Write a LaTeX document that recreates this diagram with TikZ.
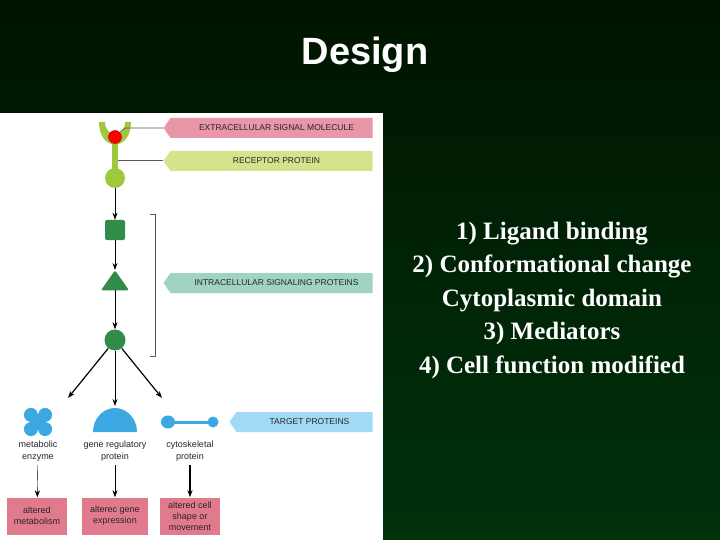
\documentclass[tikz,border=0pt]{standalone}
\usepackage{fontspec}
\setmainfont{Liberation Serif}
\setsansfont{Liberation Sans}
\usetikzlibrary{shapes.geometric,shapes.symbols,arrows.meta}
\definecolor{bgtop}{RGB}{0,20,0}
\definecolor{bgbot}{RGB}{0,50,12}
\definecolor{tagpink}{RGB}{232,150,168}
\definecolor{taggreen}{RGB}{212,228,140}
\definecolor{tagteal}{RGB}{160,212,192}
\definecolor{tagblue}{RGB}{160,218,244}
\definecolor{recgreen}{RGB}{160,200,60}
\definecolor{protgreen}{RGB}{48,140,72}
\definecolor{protblue}{RGB}{60,168,226}
\definecolor{boxpink}{RGB}{226,122,142}
\tikzset{
  tag/.style={signal, signal to=west, signal pointer angle=110, minimum height=20pt,
    inner sep=0pt, font=\sffamily\fontsize{8.5}{9}\selectfont, text=black!85},
  flow/.style={-{Stealth[length=7pt,width=5pt]}, line width=0.8pt},
  result/.style={fill=boxpink, minimum width=60pt, minimum height=37pt, inner sep=1pt,
    align=center, font=\sffamily\fontsize{9}{11}\selectfont, text=black!85},
  caption/.style={align=center, font=\sffamily\fontsize{9}{12}\selectfont, text=black!85}
}
\begin{document}
\begin{tikzpicture}[x=1pt,y=-1pt]

  % Background
  \shade[top color=bgtop, bottom color=bgbot] (0,0) rectangle (720,540);
  \useasboundingbox (0,0) rectangle (720,540);
  \node[font=\sffamily\bfseries\fontsize{38}{40}\selectfont, text=white] (title) at (365,55) {Design};

  % Panel
  \fill[white] (0,113) rectangle (383,540);

  % Receptor
  \fill[recgreen] (112,132) rectangle (118,170);
  \fill[recgreen] (99,122) -- (105,122) .. controls (105,138) and (125,138) .. (125,122)
    -- (131,122) .. controls (131,152) and (99,152) .. (99,122) -- cycle;
  \node[circle, fill=recgreen, minimum size=20pt, inner sep=0pt] (rec) at (115,178) {};
  \node[circle, fill=red, draw=red!60!black, minimum size=13pt, inner sep=0pt] (ligand) at (115,137) {};
  \coordinate (stem) at (118,161);

  % Labels
  \node[tag, fill=tagpink, minimum width=209pt] (tagsig) at (271.5,128) {\hspace{10pt}EXTRACELLULAR SIGNAL MOLECULE};
  \node[tag, fill=taggreen, minimum width=209pt] (tagrec) at (271.5,161) {\hspace{10pt}RECEPTOR PROTEIN};
  \node[tag, fill=tagteal, minimum width=209pt] (tagint) at (271.5,283) {\hspace{10pt}INTRACELLULAR SIGNALING PROTEINS};
  \node[tag, fill=tagblue, minimum width=143pt] (tagtar) at (304.5,422) {\hspace{10pt}TARGET PROTEINS};
  \draw[gray!70!black, line width=0.6pt] (ligand.north east) -- (125,128) -- (tagsig.west);
  \draw[gray!70!black, line width=1pt] (stem) -- (tagrec.west);

  % Intracellular proteins
  \node[rectangle, rounded corners=2pt, fill=protgreen, minimum size=20pt] (sq) at (115,230) {};
  \node[isosceles triangle, shape border rotate=90, isosceles triangle apex angle=70,
    rounded corners=2pt, fill=protgreen, minimum height=20pt, minimum width=22pt, inner sep=0pt] (tri) at (115,283) {};
  \node[circle, fill=protgreen, minimum size=21pt, inner sep=0pt] (circ) at (115,340) {};
  \draw[flow] (rec) -- (sq);
  \draw[flow] (sq) -- (tri);
  \draw[flow] (tri) -- (circ);
  \draw[gray!70!black, line width=0.6pt] (150,214) -- (155,214) -- (155,356) -- (150,356);

  % Target proteins
  \fill[protblue] (31,415) rectangle (45,429);
  \foreach \a in {45,135,225,315}
    \fill[protblue] (38,422) ++(\a:10) circle (7);
  \fill[protblue] (93,432) arc[start angle=180, end angle=0, x radius=22, y radius=-24] -- cycle;
  \coordinate (gene) at (115,406);
  \draw[protblue, line width=3pt] (168,422) -- (212,422);
  \fill[protblue] (168,422) ellipse (7 and 6.5);
  \fill[protblue] (213,422) circle (5.5);
  \coordinate (enz) at (68,398);
  \coordinate (cyto) at (162,398);

  \draw[flow, line width=1.2pt] (circ) -- (enz);
  \draw[flow] (circ) -- (gene);
  \draw[flow, line width=1.2pt] (circ) -- (cyto);

  % Captions and results
  \node[caption] (capenz) at (38,451) {metabolic\\enzyme};
  \node[caption] (capgene) at (115,451) {gene regulatory\\protein};
  \node[caption] (capcyto) at (190,451) {cytoskeletal\\protein};
  \node[result] (resmet) at (37,516) {altered\\metabolism};
  \node[result, minimum width=66pt] (resgene) at (115,516) {alterec gene\\expression};
  \node[result] (rescell) at (190,516) {altered cell\\shape or\\movement};
  \draw[flow, line width=0.4pt] (capenz) -- (resmet);
  \draw[flow] (capgene) -- (resgene);
  \draw[flow, line width=1.2pt] (capcyto) -- (rescell);

  % Notes
  \node[text=white, align=center, font=\bfseries\fontsize{25}{33.5}\selectfont] (notes) at (552,300)
    {1) Ligand binding\\2) Conformational change\\Cytoplasmic domain\\3) Mediators\\4) Cell function modified};

\end{tikzpicture}
\end{document}
